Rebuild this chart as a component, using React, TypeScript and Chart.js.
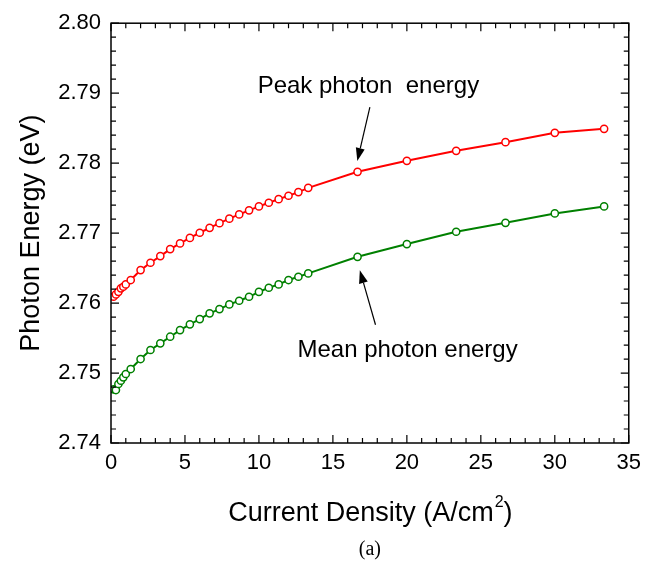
import React, { useEffect, useRef } from "react";
import { Chart, registerables } from "chart.js";

Chart.register(...registerables);

const currentDensity = [0.167, 0.333, 0.5, 0.667, 0.833, 1.0, 1.333, 2, 2.667, 3.333, 4, 4.667, 5.333, 6, 6.667, 7.333, 8, 8.667, 9.333, 10, 10.667, 11.333, 12, 12.667, 13.333, 16.667, 20, 23.333, 26.667, 30, 33.333];
const peakEnergy = [2.7609, 2.76124, 2.76161, 2.7621, 2.76233, 2.76267, 2.76329, 2.76471, 2.76576, 2.76671, 2.76771, 2.76853, 2.76931, 2.77005, 2.77075, 2.77142, 2.77206, 2.77267, 2.77325, 2.77381, 2.77434, 2.77485, 2.77534, 2.77586, 2.77647, 2.77876, 2.78033, 2.78176, 2.783, 2.78433, 2.7849];
const meanEnergy = [2.74767, 2.74757, 2.74843, 2.7489, 2.74939, 2.74986, 2.75057, 2.752, 2.75329, 2.75424, 2.75519, 2.75614, 2.75696, 2.75771, 2.75853, 2.75914, 2.75981, 2.76033, 2.7609, 2.76161, 2.76219, 2.76267, 2.76329, 2.76376, 2.76424, 2.76661, 2.76843, 2.77019, 2.77147, 2.77281, 2.77381];

const xTicks = [0, 5, 10, 15, 20, 25, 30, 35];
const yTicks = [2.74, 2.75, 2.76, 2.77, 2.78, 2.79, 2.8];

const FONT = "'Liberation Sans', Arial, sans-serif";

function drawArrow(ctx: CanvasRenderingContext2D, x1: number, y1: number, x2: number, y2: number) {
  const ang = Math.atan2(y2 - y1, x2 - x1);
  const head = 13;
  const half = 4.5;
  const bx = x2 - head * Math.cos(ang);
  const by = y2 - head * Math.sin(ang);
  ctx.save();
  ctx.strokeStyle = "#000";
  ctx.fillStyle = "#000";
  ctx.lineWidth = 1.2;
  ctx.beginPath();
  ctx.moveTo(x1, y1);
  ctx.lineTo(bx, by);
  ctx.stroke();
  ctx.beginPath();
  ctx.moveTo(x2, y2);
  ctx.lineTo(bx + half * Math.sin(ang), by - half * Math.cos(ang));
  ctx.lineTo(bx - half * Math.sin(ang), by + half * Math.cos(ang));
  ctx.closePath();
  ctx.fill();
  ctx.restore();
}

const framePlugin = {
  id: "frameTicks",
  afterDraw(chart: any) {
    const ctx: CanvasRenderingContext2D = chart.ctx;
    const { left, right, top, bottom } = chart.chartArea;
    const xs = chart.scales.x;
    const ys = chart.scales.y;
    ctx.save();
    ctx.strokeStyle = "#000";
    ctx.lineWidth = 1.5;
    ctx.strokeRect(left, top, right - left, bottom - top);
    ctx.lineWidth = 1.2;
    ctx.beginPath();
    for (let v = 0; v <= 35; v += 1) {
      const px = xs.getPixelForValue(v);
      const len = v % 5 === 0 ? 8 : 5;
      ctx.moveTo(px, bottom);
      ctx.lineTo(px, bottom - len);
      ctx.moveTo(px, top);
      ctx.lineTo(px, top + len);
    }
    for (let i = 0; i <= 30; i++) {
      const v = 2.74 + i * 0.002;
      const py = ys.getPixelForValue(v);
      const len = i % 5 === 0 ? 8 : 5;
      ctx.moveTo(left, py);
      ctx.lineTo(left + len, py);
      ctx.moveTo(right, py);
      ctx.lineTo(right - len, py);
    }
    ctx.stroke();

    // axis titles
    const TS = 27;
    ctx.fillStyle = "#000";
    ctx.font = `${TS}px ${FONT}`;
    ctx.textBaseline = "middle";
    const cx = (left + right) / 2;
    const t1 = "Current Density (A/cm";
    const w1 = ctx.measureText(t1).width;
    ctx.font = `16px ${FONT}`;
    const w2 = ctx.measureText("2").width;
    ctx.font = `${TS}px ${FONT}`;
    const w3 = ctx.measureText(")").width;
    const total = w1 + w2 + w3;
    const sx = cx - total / 2;
    const ty = 514;
    ctx.textAlign = "left";
    ctx.fillText(t1, sx, ty);
    ctx.font = `16px ${FONT}`;
    ctx.fillText("2", sx + w1 + 1, ty - 11);
    ctx.font = `${TS}px ${FONT}`;
    ctx.fillText(")", sx + w1 + w2 + 1, ty);

    ctx.save();
    ctx.translate(32, (top + bottom) / 2);
    ctx.rotate(-Math.PI / 2);
    ctx.textAlign = "center";
    ctx.fillText("Photon Energy (eV)", 0, 0);
    ctx.restore();

    ctx.font = `20px 'Liberation Serif', 'Times New Roman', serif`;
    ctx.textAlign = "center";
    ctx.fillText("(a)", cx, 550);

    // annotations
    ctx.font = `24px ${FONT}`;
    ctx.fillText("Peak photon  energy", xs.getPixelForValue(17.4), ys.getPixelForValue(2.7909));
    ctx.fillText("Mean photon energy", xs.getPixelForValue(20.05), ys.getPixelForValue(2.7533));
    drawArrow(ctx, xs.getPixelForValue(17.5), ys.getPixelForValue(2.788), xs.getPixelForValue(16.65), ys.getPixelForValue(2.7803));
    drawArrow(ctx, xs.getPixelForValue(17.88), ys.getPixelForValue(2.7569), xs.getPixelForValue(16.82), ys.getPixelForValue(2.7647));
    ctx.restore();
  },
};

export default function App() {
  const ref = useRef<HTMLCanvasElement | null>(null);
  useEffect(() => {
    document.body.style.margin = "0";
    const canvas = ref.current!;
    const chart = new Chart(canvas, {
      type: "line",
      data: {
        datasets: [
          {
            label: "Peak photon energy",
            data: currentDensity.map((x, i) => ({ x, y: peakEnergy[i] })),
            borderColor: "#ff0000",
            backgroundColor: "#ffffff",
            pointBorderColor: "#ff0000",
            pointBackgroundColor: "#ffffff",
            borderWidth: 2,
            pointRadius: 3.6,
            pointBorderWidth: 1.5,
            tension: 0,
          },
          {
            label: "Mean photon energy",
            data: currentDensity.map((x, i) => ({ x, y: meanEnergy[i] })),
            borderColor: "#008000",
            backgroundColor: "#ffffff",
            pointBorderColor: "#008000",
            pointBackgroundColor: "#ffffff",
            borderWidth: 2,
            pointRadius: 3.6,
            pointBorderWidth: 1.5,
            tension: 0,
          },
        ],
      },
      options: {
        responsive: false,
        animation: false,
        devicePixelRatio: 1,
        layout: { padding: { top: 23, right: 17, left: 0, bottom: 0 } },
        plugins: { legend: { display: false }, tooltip: { enabled: false } },
        scales: {
          x: {
            type: "linear",
            min: 0,
            max: 35,
            afterFit: (s: any) => { s.height = 125; },
            afterBuildTicks: (s: any) => { s.ticks = xTicks.map((v) => ({ value: v })); },
            grid: { display: false, drawTicks: false },
            border: { display: false },
            ticks: { color: "#000", font: { family: FONT, size: 22 }, padding: 7, maxRotation: 0 },
          },
          y: {
            type: "linear",
            min: 2.74,
            max: 2.8,
            afterFit: (s: any) => { s.width = 111; },
            afterBuildTicks: (s: any) => { s.ticks = yTicks.map((v) => ({ value: v })); },
            grid: { display: false, drawTicks: false },
            border: { display: false },
            ticks: { color: "#000", font: { family: FONT, size: 22 }, padding: 10, callback: (v: any) => Number(v).toFixed(2) },
          },
        },
      },
      plugins: [framePlugin],
    });
    return () => chart.destroy();
  }, []);
  return (
    <div style={{ position: "absolute", left: 0, top: 0, width: 648, height: 568, background: "#fff" }}>
      <canvas ref={ref} width={648} height={568} style={{ width: 648, height: 568 }} />
    </div>
  );
}
